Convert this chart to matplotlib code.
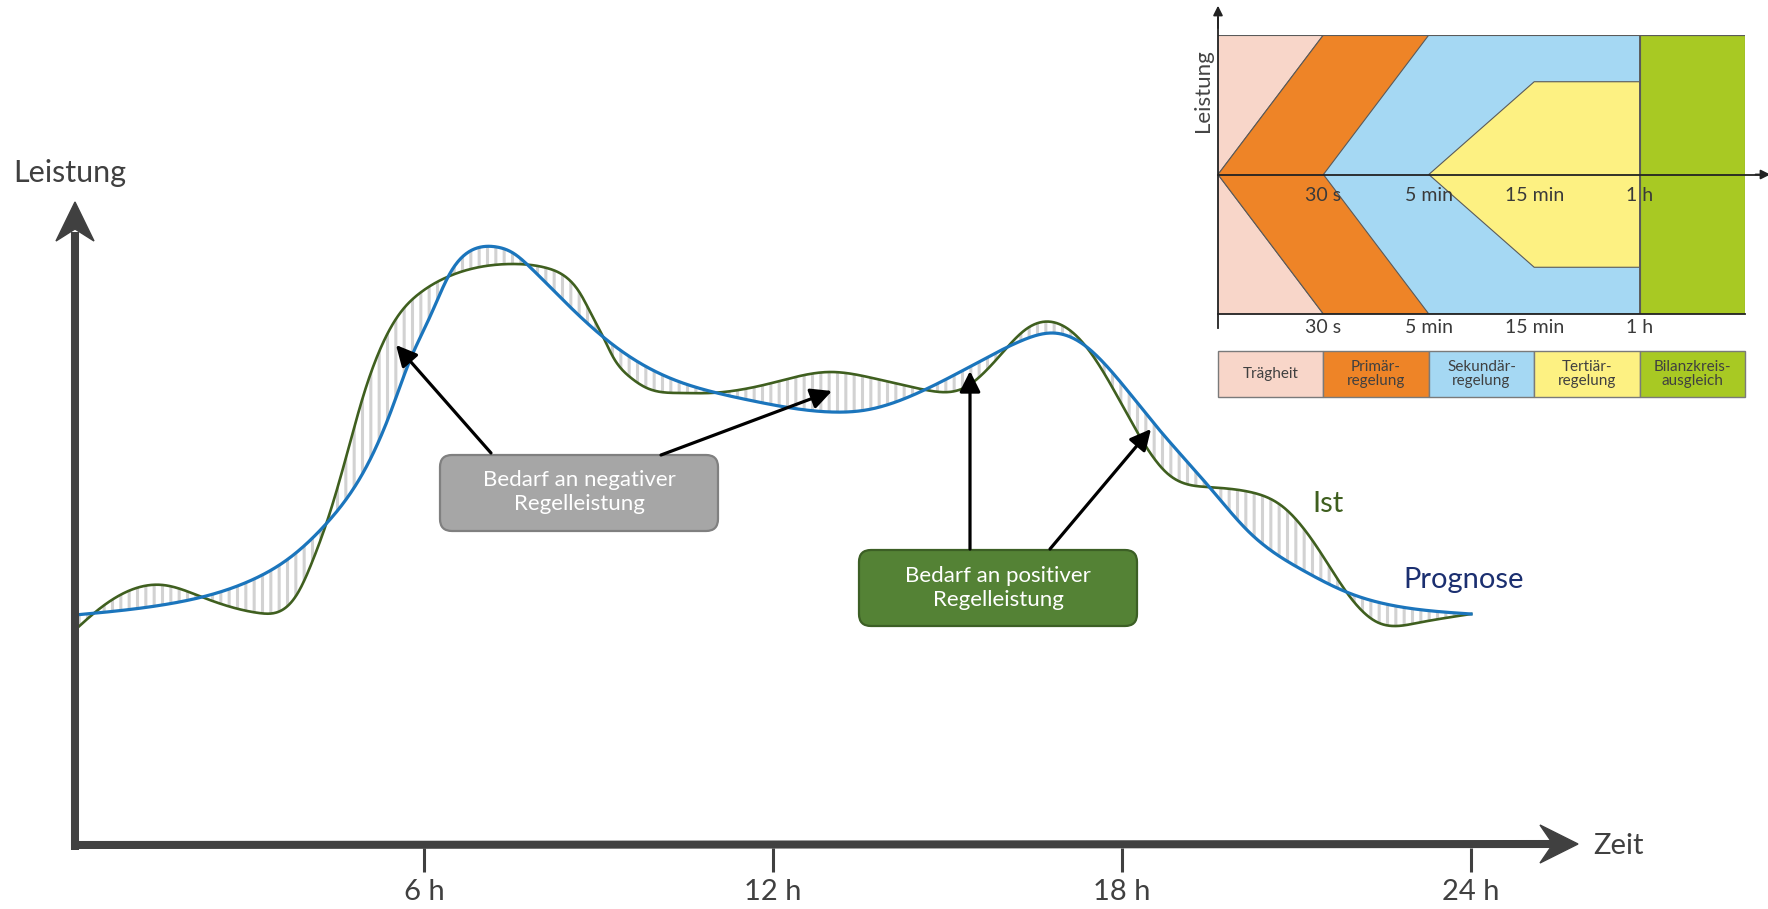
import numpy as np
import matplotlib
matplotlib.use("Agg")
from matplotlib import pyplot as plt
from matplotlib.patches import Polygon, FancyBboxPatch, Rectangle

plt.rcParams['font.family'] = ['Lato', 'DejaVu Sans']
plt.rcParams['hatch.linewidth'] = 2.2

# Prognose (blau) – Stunden / Leistung
prog_h = [0, 1.7, 3.04, 3.64, 4.33, 4.95, 5.42, 5.76, 6.10, 6.45, 6.74, 6.98, 7.25,
          7.53, 7.82, 8.39, 9.08, 9.71, 10.40, 10.97, 11.66, 13.0, 13.6, 14.6, 15.6,
          16.3, 16.8, 17.3, 17.9, 18.6, 19.5, 20.2, 21.1, 21.9, 22.8, 24.0]
prog_p = [2.30, 2.42, 2.65, 2.85, 3.22, 3.72, 4.32, 4.85, 5.28, 5.72, 5.92, 5.98, 5.98,
          5.92, 5.78, 5.45, 5.08, 4.82, 4.63, 4.53, 4.44, 4.33, 4.35, 4.55, 4.85,
          5.05, 5.12, 5.02, 4.68, 4.18, 3.58, 3.12, 2.75, 2.52, 2.38, 2.31]

# Ist (grün)
ist_h = [0, 0.46, 1.51, 2.18, 3.16, 3.83, 4.09, 4.38, 4.68, 4.95, 5.24, 5.54, 5.93,
         6.40, 6.96, 7.53, 8.11, 8.46, 8.68, 8.90, 9.08, 9.25, 9.54, 9.83, 10.40,
         10.92, 11.98, 12.98, 13.63, 14.63, 15.28, 15.94, 16.33, 16.8, 17.33, 17.79,
         18.24, 18.77, 19.46, 20.2, 20.77, 21.35, 21.92, 22.38, 23.07, 24.0]
ist_p = [2.15, 2.38, 2.60, 2.48, 2.32, 2.52, 2.85, 3.32, 3.92, 4.48, 4.95, 5.28, 5.52,
         5.68, 5.78, 5.81, 5.77, 5.67, 5.52, 5.28, 5.08, 4.88, 4.68, 4.57, 4.52,
         4.52, 4.62, 4.73, 4.68, 4.55, 4.57, 4.92, 5.15, 5.23, 5.02, 4.62,
         4.15, 3.72, 3.58, 3.53, 3.38, 2.98, 2.48, 2.23, 2.22, 2.31]

tick_hours = [6, 12, 18, 24]
tick_labels = ["6 h", "12 h", "18 h", "24 h"]

# Inset: Regelleistungsarten
stufen = ["Trägheit", "Primär-\nregelung", "Sekundär-\nregelung", "Tertiär-\nregelung",
          "Bilanzkreis-\nausgleich"]
stufen_farben = ["#f8d6c9", "#ee8427", "#a5d8f3", "#fdf182", "#a8c923"]
zeiten = ["30 s", "5 min", "15 min", "1 h"]


def spline(xs, ys, xx):
    xs = np.asarray(xs, float)
    ys = np.asarray(ys, float)
    n = len(xs)
    h = np.diff(xs)
    A = np.zeros((n, n))
    b = np.zeros(n)
    A[0, 0] = A[-1, -1] = 1
    for i in range(1, n - 1):
        A[i, i - 1] = h[i - 1]
        A[i, i] = 2 * (h[i - 1] + h[i])
        A[i, i + 1] = h[i]
        b[i] = 6 * ((ys[i + 1] - ys[i]) / h[i] - (ys[i] - ys[i - 1]) / h[i - 1])
    M = np.linalg.solve(A, b)
    i = np.clip(np.searchsorted(xs, xx) - 1, 0, n - 2)
    hi = h[i]
    a = xs[i + 1] - xx
    c = xx - xs[i]
    return (M[i] * a**3 / (6 * hi) + M[i + 1] * c**3 / (6 * hi)
            + (ys[i] / hi - M[i] * hi / 6) * a + (ys[i + 1] / hi - M[i + 1] * hi / 6) * c)


W, H = 1768, 909
fig = plt.figure(figsize=(W / 100, H / 100), dpi=100)

# Hauptdiagramm: 0 h bei x=75 px, 58.17 px pro Stunde; Leistung 0 bei y=845 px
ax = fig.add_axes([0, 0, 1, 1])
px_h = 58.17
ax.set_xlim(-75 / px_h, (W - 75) / px_h)
ax.set_ylim(-(H - 845) / 100, 845 / 100)
ax.axis('off')

xx = np.linspace(0, 24, 1500)
prog = spline(prog_h, prog_p, xx)
ist = spline(ist_h, ist_p, xx)

ax.fill_between(xx, prog, ist, facecolor='none', edgecolor='#d2d2d2', hatch='||',
                linewidth=0, zorder=1)
ax.plot(xx, ist, color='#3f5f1f', lw=1.9, zorder=3)
ax.plot(xx, prog, color='#1b75bc', lw=2.3, zorder=3)

ax.vlines(tick_hours, -0.03, -0.27, color='#404040', lw=2.2, zorder=4)
for h, lab in zip(tick_hours, tick_labels):
    ax.text(h, -0.47, lab, ha='center', va='center', fontsize=21, color='#404040')

# Overlay in Pixelkoordinaten für Achsenpfeile, Kästen, Beschriftungen
ov = fig.add_axes([0, 0, 1, 1], facecolor='none')
ov.set_xlim(0, W)
ov.set_ylim(H, 0)
ov.axis('off')

axc = '#404040'
ov.plot([75, 75], [850, 232], color=axc, lw=5.8, solid_capstyle='butt', zorder=5)
ov.add_patch(Polygon([[75, 202], [56, 241], [75, 229], [94, 241]], closed=True,
                     color=axc, zorder=5))
ov.plot([71, 1556], [845, 844], color=axc, lw=5.8, solid_capstyle='butt', zorder=5)
ov.add_patch(Polygon([[1578, 844], [1540, 825], [1553, 844], [1540, 863]], closed=True,
                     color=axc, zorder=5))

ov.text(13, 173, "Leistung", ha='left', va='center', fontsize=22, color='#404040')
ov.text(1593, 846, "Zeit", ha='left', va='center', fontsize=21, color='#404040')
ov.text(1312, 504, "Ist", ha='left', va='center', fontsize=21, color='#3f5f1f')
ov.text(1403, 580, "Prognose", ha='left', va='center', fontsize=21, color='#1b2f70')

# Kästen
ov.add_patch(FancyBboxPatch((440, 455), 278, 76,
                            boxstyle='round,pad=0,rounding_size=12',
                            facecolor='#a6a6a6', edgecolor='#808080', lw=1.6, zorder=6))
ov.text(579, 492, "Bedarf an negativer\nRegelleistung", ha='center', va='center',
        fontsize=16, color='white', linespacing=1.3, zorder=7)
ov.add_patch(FancyBboxPatch((859, 550), 278, 76,
                            boxstyle='round,pad=0,rounding_size=12',
                            facecolor='#548235', edgecolor='#3c5f25', lw=1.6, zorder=6))
ov.text(998, 588, "Bedarf an positiver\nRegelleistung", ha='center', va='center',
        fontsize=16, color='white', linespacing=1.3, zorder=7)

arrows = [((491, 453), (396, 345)), ((661, 455), (832, 391)),
          ((970, 549), (970, 371)), ((1050, 549), (1151, 429))]
for tail, tip in arrows:
    ov.annotate('', xy=tip, xytext=tail,
                arrowprops=dict(arrowstyle='-|>,head_length=0.9,head_width=0.45',
                                color='black', lw=2.3, mutation_scale=14,
                                shrinkA=0, shrinkB=0), zorder=6)

# Inset
x0, x1 = 1218, 1745
y_top, y_mid, y_bot = 35, 175, 314
ins = fig.add_axes([x0 / W, (H - y_bot) / H, (x1 - x0) / W, (y_bot - y_top) / H])
ins.set_xlim(0, 5)
ins.set_ylim(-1, 1)
ins.axis('off')
ec = '#5a5a5a'
ins.add_patch(Rectangle((0, -1), 1.5, 2, facecolor=stufen_farben[0], edgecolor='none'))
ins.add_patch(Polygon([[1, 1], [4, 1], [4, -1], [1, -1], [0, 0]], closed=True,
                      facecolor=stufen_farben[2], edgecolor=ec, lw=0.8))
ins.add_patch(Polygon([[1, 1], [2, 1], [1, 0], [2, -1], [1, -1], [0, 0]], closed=True,
                      facecolor=stufen_farben[1], edgecolor=ec, lw=0.8))
gelb = 0.665
ins.add_patch(Polygon([[2, 0], [3, gelb], [4, gelb], [4, -gelb], [3, -gelb]], closed=True,
                      facecolor=stufen_farben[3], edgecolor=ec, lw=0.8))
ins.add_patch(Rectangle((4, -1), 1, 2, facecolor=stufen_farben[4], edgecolor=ec, lw=0.8))
ins.plot([0, 5], [1, 1], color=ec, lw=0.8)

# Achsen des Insets
ins.plot([0, 0], [-1.1, 1.12], color='#222222', lw=1.3, clip_on=False)
ins.plot([0, 5.15], [0, 0], color='#222222', lw=1.3, clip_on=False)
ins.plot([0, 5], [-1, -1], color='#222222', lw=1.3, clip_on=False)
ins.annotate('', xy=(0, 1.21), xytext=(0, 1.05),
             arrowprops=dict(arrowstyle='-|>', color='#222222', lw=1.3,
                             mutation_scale=14, shrinkA=0, shrinkB=0),
             annotation_clip=False)
ins.annotate('', xy=(5.24, 0), xytext=(5.1, 0),
             arrowprops=dict(arrowstyle='-|>', color='#222222', lw=1.3,
                             mutation_scale=14, shrinkA=0, shrinkB=0),
             annotation_clip=False)
ins.text(-0.14, 0.6, "Leistung", rotation=90, ha='center', va='center',
         fontsize=16, color='#444444')

for k, z in enumerate(zeiten):
    ins.text(k + 1, -0.15, z, ha='center', va='center', fontsize=14, color='#3a3a3a')
    ins.text(k + 1, -1.1, z, ha='center', va='center', fontsize=14, color='#3a3a3a',
             clip_on=False)

for k, (lab, col) in enumerate(zip(stufen, stufen_farben)):
    ins.add_patch(Rectangle((k, -1.595), 1, 0.33, facecolor=col, edgecolor='#7a7a7a',
                            lw=1.0, clip_on=False))
    ins.text(k + 0.5, -1.43, lab, ha='center', va='center', fontsize=11,
             color='#404040', linespacing=1.0, clip_on=False)

fig.savefig("out.png", dpi=100)
